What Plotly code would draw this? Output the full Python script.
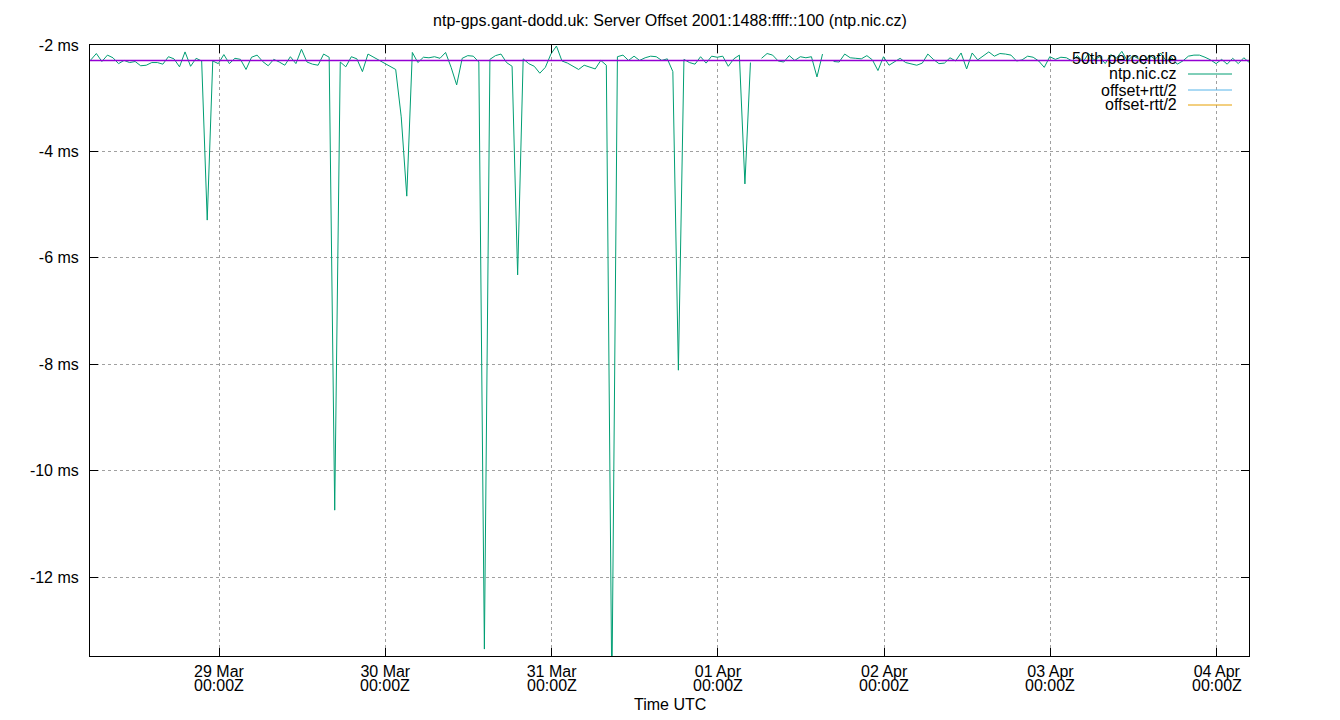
import pandas as pd
import plotly.graph_objects as go

# sample times: one sample every 48 minutes starting 28 Mar 05:30 UTC
start_time = "2024-03-28 05:30"
sample_step = "48min"

# offset in ms (None = no sample)
offset_ms = [
    -2.28, -2.16, -2.31, -2.19, -2.24, -2.35, -2.29, -2.33, -2.31, -2.39,
    -2.38, -2.33, -2.33, -2.36, -2.22, -2.26, -2.41, -2.13, -2.40, -2.25,
    -2.30, -5.29, -2.30, -2.35, -2.18, -2.35, -2.25, -2.27, -2.46, -2.23,
    -2.19, -2.31, -2.39, -2.27, -2.32, -2.38, -2.22, -2.35, -2.08, -2.32,
    -2.36, -2.38, -2.17, -2.23, -10.74, -2.32, -2.41, -2.22, -2.26, -2.50,
    -2.17, -2.23, -2.28, -2.34, -2.41, -2.46, -3.35, -4.84, -2.14, -2.33,
    -2.23, -2.24, -2.22, -2.25, -2.14, -2.42, -2.75, -2.25, -2.20, -2.21,
    -2.32, -13.35, -2.27, -2.20, -2.17, -2.33, -2.40, -6.32, -2.26, -2.35,
    -2.40, -2.53, -2.42, -2.17, -2.02, -2.30, -2.34, -2.40, -2.46, -2.38,
    -2.42, -2.45, -2.29, -2.38, -14.2, -2.22, -2.19, -2.29, -2.21, -2.29,
    -2.24, -2.21, -2.22, -2.29, -2.26, -2.50, -8.11, -2.27, -2.33, -2.36,
    -2.22, -2.34, -2.21, -2.23, -2.21, -2.40, -2.26, -2.19, -4.61, -2.33,
    None, -2.25, -2.16, -2.19, -2.30, -2.32, -2.20, -2.29, -2.22, -2.24,
    -2.22, -2.60, -2.17, None, -2.31, -2.32, -2.17, -2.24, -2.25, -2.26,
    -2.20, -2.28, -2.48, -2.22, -2.38, -2.31, -2.25, -2.33, -2.35, -2.38,
    -2.34, -2.17, -2.27, -2.35, -2.34, -2.24, -2.30, -2.15, -2.45, -2.15,
    -2.28, -2.20, -2.13, -2.21, -2.16, -2.17, -2.19, -2.30, -2.28, -2.21,
    -2.23, -2.30, -2.42, -2.22, -2.27, -2.23, -2.24, -2.30, -2.20, -2.32,
    -2.16, -2.28, -2.22, -2.35, -2.18, -2.25, -2.12, -2.30, -2.20, -2.26,
    -2.36, -2.19, -2.27, -2.15, -2.30, -2.24, -2.36, -2.30, -2.21, -2.19,
    -2.19, -2.23, -2.28, -2.35, -2.27, -2.36, -2.25, -2.35, -2.24, -2.33,
]
median_ms = -2.29

times = pd.date_range(start_time, periods=len(offset_ms), freq=sample_step)

x_range = ["2024-03-28 05:23", "2024-04-04 04:39"]
y_range = [-13.48, -2.0]

day_ticks = ["2024-03-29", "2024-03-30", "2024-03-31", "2024-04-01",
             "2024-04-02", "2024-04-03", "2024-04-04"]
day_labels = ["29 Mar", "30 Mar", "31 Mar", "01 Apr", "02 Apr", "03 Apr", "04 Apr"]
time_labels = ["00:00Z"] * len(day_ticks)
ms_ticks = [-2, -4, -6, -8, -10, -12]
ms_labels = ["-2 ms", "-4 ms", "-6 ms", "-8 ms", "-10 ms", "-12 ms"]

legend_names = ["50th percentile", "ntp.nic.cz", "offset+rtt/2", "offset-rtt/2"]
legend_colors = [None, "#009e73", "#56b4e9", "#e69f00"]

FONT = "Liberation Sans, Arial, sans-serif"
tick_font = dict(family=FONT, size=16, color="black")

# page body has an 8px margin, so the figure is 16px smaller than the window
W, H = 1324, 704
L, T, R, B = 82, 37, 83, 56
plot_w, plot_h = W - L - R, H - T - B


def px_x(x):  # window pixel -> paper x
    return (x - 8 - L) / plot_w


def px_y(y):  # window pixel -> paper y
    return (H - B - (y - 8)) / plot_h


fig = go.Figure()
fig.add_trace(go.Scatter(x=times, y=offset_ms, mode="lines",
                         line=dict(color="#009e73", width=1),
                         connectgaps=False, name="ntp.nic.cz"))
fig.add_trace(go.Scatter(x=x_range, y=[median_ms, median_ms], mode="lines",
                         line=dict(color="#9400d3", width=1.5),
                         name="50th percentile"))

# white key box hides the grid behind the legend (gnuplot style)
fig.add_shape(type="rect", xref="paper", yref="paper", x0=px_x(1040), x1=1.0,
              y0=px_y(113), y1=1.0, fillcolor="white", line_width=0, layer="between")

# gnuplot-like key: text on the left, sample line on the right
row_y = [58, 74, 90, 105]
for name, color, yy in zip(legend_names, legend_colors, row_y):
    fig.add_annotation(x=px_x(1179), y=px_y(yy), xref="paper", yref="paper",
                       text=name, showarrow=False, xanchor="right", yanchor="middle",
                       font=dict(family=FONT, size=16, color="black"))
    if color:
        fig.add_shape(type="line", xref="paper", yref="paper",
                      x0=px_x(1188), x1=px_x(1232), y0=px_y(yy), y1=px_y(yy),
                      line=dict(color=color, width=1))

# second line of the x tick labels (gnuplot puts them tighter than plotly's <br>)
for tv, tl in zip(day_ticks, time_labels):
    fig.add_annotation(x=tv, y=px_y(685), xref="x", yref="paper", text=tl,
                       showarrow=False, yanchor="middle", font=tick_font)

fig.add_annotation(x=0.5, y=px_y(705), xref="paper", yref="paper",
                   text="Time UTC", showarrow=False, yanchor="middle",
                   font=dict(family=FONT, size=16, color="black"))

axis_common = dict(showline=True, linecolor="black", linewidth=1, mirror="allticks",
                   ticks="inside", ticklen=8, tickcolor="black",
                   showgrid=True, gridcolor="#a0a0a0", griddash="dot", gridwidth=1,
                   zeroline=False, tickfont=tick_font)

fig.update_xaxes(type="date", range=x_range, tickmode="array",
                 tickvals=day_ticks, ticktext=day_labels, ticklabelstandoff=1,
                 **axis_common)
fig.update_yaxes(range=y_range, tickmode="array", tickvals=ms_ticks,
                 ticktext=ms_labels, ticklabelstandoff=7, **axis_common)

fig.update_layout(
    width=W, height=H,
    margin=dict(l=L, r=R, t=T, b=B),
    paper_bgcolor="white", plot_bgcolor="white",
    showlegend=False,
    title=dict(text="ntp-gps.gant-dodd.uk: Server Offset 2001:1488:ffff::100 (ntp.nic.cz)",
               x=0.5, xanchor="center", y=1 - 12 / H, yanchor="middle",
               font=dict(family=FONT, size=16, color="black")),
)

fig.write_html("out.html")
